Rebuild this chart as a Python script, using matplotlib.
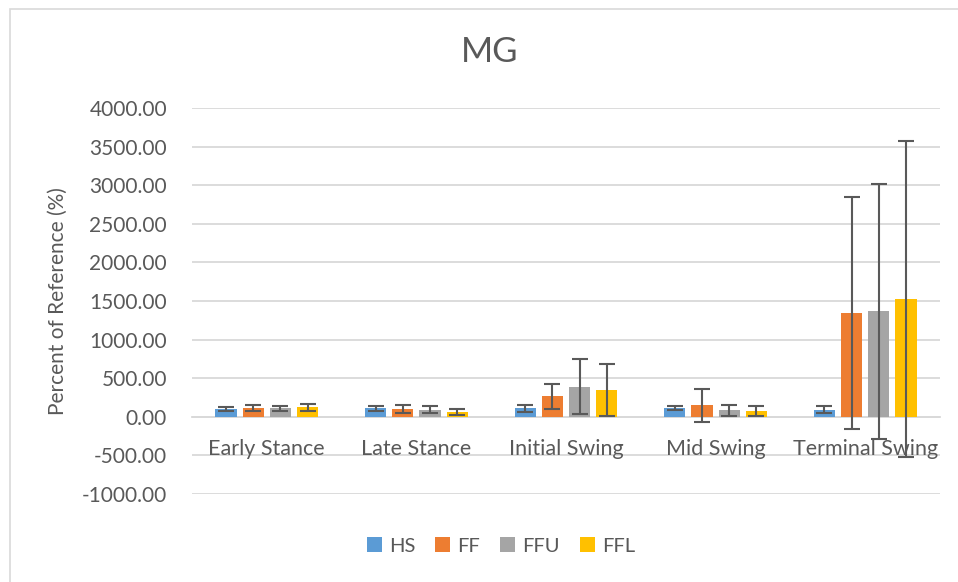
import matplotlib.pyplot as plt
import numpy as np
from matplotlib.patches import Rectangle

phases = ['Early Stance', 'Late Stance', 'Initial Swing', 'Mid Swing', 'Terminal Swing']
series = ['HS', 'FF', 'FFU', 'FFL']
colors = ['#5B9BD5', '#ED7D31', '#A5A5A5', '#FFC000']

hs = [96, 108, 108, 108, 91]
ff = [116, 103, 263, 147, 1345]
ffu = [108, 91, 392, 82, 1364]
ffl = [121, 65, 349, 73, 1527]

hs_err = [25, 30, 41, 26, 47]
ff_err = [40, 52, 163, 213, 1497]
ffu_err = [38, 45, 354, 75, 1655]
ffl_err = [45, 40, 339, 63, 2045]

values = [hs, ff, ffu, ffl]
errors = [hs_err, ff_err, ffu_err, ffl_err]

plt.rcParams['font.family'] = ['Lato', 'DejaVu Sans']
txt = '#595959'

fig = plt.figure(figsize=(9.58, 5.82), dpi=100)
ax = fig.add_axes([192/958, 1 - 494/582, 748/958, (494 - 108)/582])

x = np.arange(len(phases))
step = 0.182
width = 0.142
for i, (vals, errs) in enumerate(zip(values, errors)):
    pos = x + (i - 1.5) * step
    ax.bar(pos, vals, width, color=colors[i], label=series[i], zorder=3)
    ax.errorbar(pos, vals, yerr=errs, fmt='none', ecolor='#595959',
                elinewidth=1.5, capsize=6, capthick=1.5, zorder=4)

ax.set_xlim(-0.5, len(phases) - 0.5)
ax.set_ylim(-1000, 4000)
yt = np.arange(-1000, 4001, 500)
ax.set_yticks(yt)
ax.set_yticklabels(['%.2f' % v for v in yt], fontsize=15, color=txt)
# gridlines as plain lines so the category labels sit on top of them
for v in yt:
    ax.axhline(v, color='#D9D9D9', linewidth=1.3, zorder=0.5)
ax.set_axisbelow(False)
ax.tick_params(axis='y', length=0, pad=18)

for s in ['top', 'right', 'left']:
    ax.spines[s].set_visible(False)
ax.spines['bottom'].set_position(('data', 0))
ax.spines['bottom'].set_color('#D9D9D9')
ax.spines['bottom'].set_linewidth(1.3)
ax.spines['bottom'].set_zorder(2)
ax.set_xticks(x)
ax.set_xticklabels(phases, fontsize=15.5, color=txt)
ax.tick_params(axis='x', length=0, pad=16)

ax.set_ylabel('Percent of Reference (%)', fontsize=15, color=txt, labelpad=10)
fig.text(490/958, 1 - 52/582, 'MG', fontsize=25, color=txt, ha='center', va='center')

handles, labels = ax.get_legend_handles_labels()
fig.legend(handles, labels, loc='center', bbox_to_anchor=(501/958, 1 - 546/582),
           ncol=4, frameon=False, fontsize=14.5, labelcolor=txt,
           handlelength=0.75, handleheight=0.75, handletextpad=0.35, columnspacing=1.0)

fig.patches.append(Rectangle((10/958, -0.05), 1.0, 1 - 9/582 + 0.05, transform=fig.transFigure,
                             fill=False, edgecolor='#D9D9D9', linewidth=1.2))

fig.savefig('out.png', dpi=100)
